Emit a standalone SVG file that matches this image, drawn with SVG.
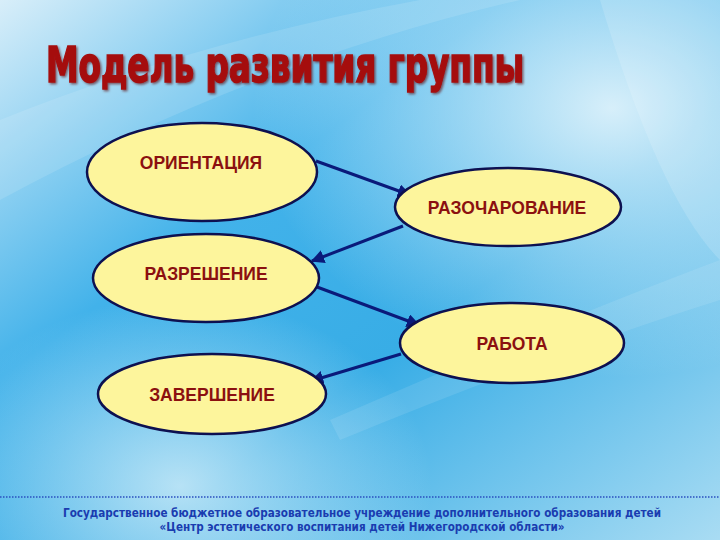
<svg xmlns="http://www.w3.org/2000/svg" width="720" height="540" viewBox="0 0 720 540">
<defs>
<linearGradient id="bg" x1="0" y1="0" x2="1" y2="1">
<stop offset="0" stop-color="#d8eef9"/>
<stop offset="0.35" stop-color="#42b2ea"/>
<stop offset="0.6" stop-color="#38ade6"/>
<stop offset="1" stop-color="#a9dcf3"/>
</linearGradient>
<radialGradient id="glow" cx="0.85" cy="0.2" r="0.5">
<stop offset="0" stop-color="#e8f6fc" stop-opacity="0.9"/>
<stop offset="1" stop-color="#e8f6fc" stop-opacity="0"/>
</radialGradient>
<radialGradient id="glow2" cx="0.25" cy="0.9" r="0.35">
<stop offset="0" stop-color="#d6eff9" stop-opacity="0.8"/>
<stop offset="1" stop-color="#d6eff9" stop-opacity="0"/>
</radialGradient>
<marker id="ah" viewBox="0 0 10 10" refX="9" refY="5" markerWidth="4.5" markerHeight="4.5" orient="auto" markerUnits="strokeWidth">
<path d="M0,0 L10,5 L0,10 z" fill="#0a1a7a"/>
</marker>
<filter id="sh" x="-5%" y="-5%" width="110%" height="120%">
<feDropShadow dx="1.5" dy="1.5" stdDeviation="0.8" flood-color="#5a0000" flood-opacity="0.6"/>
</filter>
</defs>
<style>
.node ellipse{fill:#fdf59c;stroke:#0d1050;stroke-width:2.5}
.node text{font-family:"Liberation Sans",Arial,sans-serif;font-weight:bold;font-size:17.5px;fill:#8b1010;text-anchor:middle}
.conn line{stroke:#0a1a7a;stroke-width:3;marker-end:url(#ah)}
.foot{font-family:"DejaVu Sans Condensed","Liberation Sans",sans-serif;font-weight:bold;font-size:12px;fill:#1a3cb0;text-anchor:middle}
</style>
<rect width="720" height="540" fill="url(#bg)"/>
<rect width="720" height="540" fill="url(#glow)"/>
<rect width="720" height="540" fill="url(#glow2)"/>
<path d="M0,120 Q200,40 420,0 L520,0 Q260,60 0,200 z" fill="#ffffff" opacity="0.12"/>
<path d="M720,260 Q560,320 330,420 L340,440 Q560,350 720,300 z" fill="#ffffff" opacity="0.1"/>
<path d="M600,0 Q660,200 720,260 L720,0 z" fill="#ffffff" opacity="0.15"/>
<g id="title">
<text x="46" y="82" textLength="478" lengthAdjust="spacingAndGlyphs" font-family="'DejaVu Sans Condensed','Liberation Sans',sans-serif" font-weight="bold" font-size="50" fill="#a50a0a" stroke="#a50a0a" stroke-width="1.5" filter="url(#sh)">Модель развития группы</text>
</g>
<g id="connectors" class="conn">
<line x1="316" y1="161" x2="410" y2="195"/>
<line x1="403" y1="226" x2="312" y2="261"/>
<line x1="317" y1="287" x2="419" y2="325"/>
<line x1="401" y1="354" x2="311" y2="381"/>
</g>
<g id="n1" class="node">
<ellipse cx="202" cy="172" rx="115" ry="49"/>
<text x="201" y="169">ОРИЕНТАЦИЯ</text>
</g>
<g id="n2" class="node">
<ellipse cx="508" cy="207" rx="113" ry="39"/>
<text x="507" y="214">РАЗОЧАРОВАНИЕ</text>
</g>
<g id="n3" class="node">
<ellipse cx="206" cy="278" rx="113" ry="44"/>
<text x="206" y="280">РАЗРЕШЕНИЕ</text>
</g>
<g id="n4" class="node">
<ellipse cx="512" cy="343" rx="112" ry="40"/>
<text x="512" y="350">РАБОТА</text>
</g>
<g id="n5" class="node">
<ellipse cx="212" cy="394" rx="114" ry="40"/>
<text x="212" y="401">ЗАВЕРШЕНИЕ</text>
</g>
<g id="footer">
<line x1="0" y1="497" x2="720" y2="497" stroke="#2a4fc0" stroke-width="1.5" stroke-dasharray="1.5 1.5"/>
<text class="foot" x="362" y="517" textLength="598" lengthAdjust="spacingAndGlyphs">Государственное бюджетное образовательное учреждение дополнительного образования детей</text>
<text class="foot" x="362" y="531" textLength="405" lengthAdjust="spacingAndGlyphs">«Центр эстетического воспитания детей  Нижегородской области»</text>
</g>
</svg>
